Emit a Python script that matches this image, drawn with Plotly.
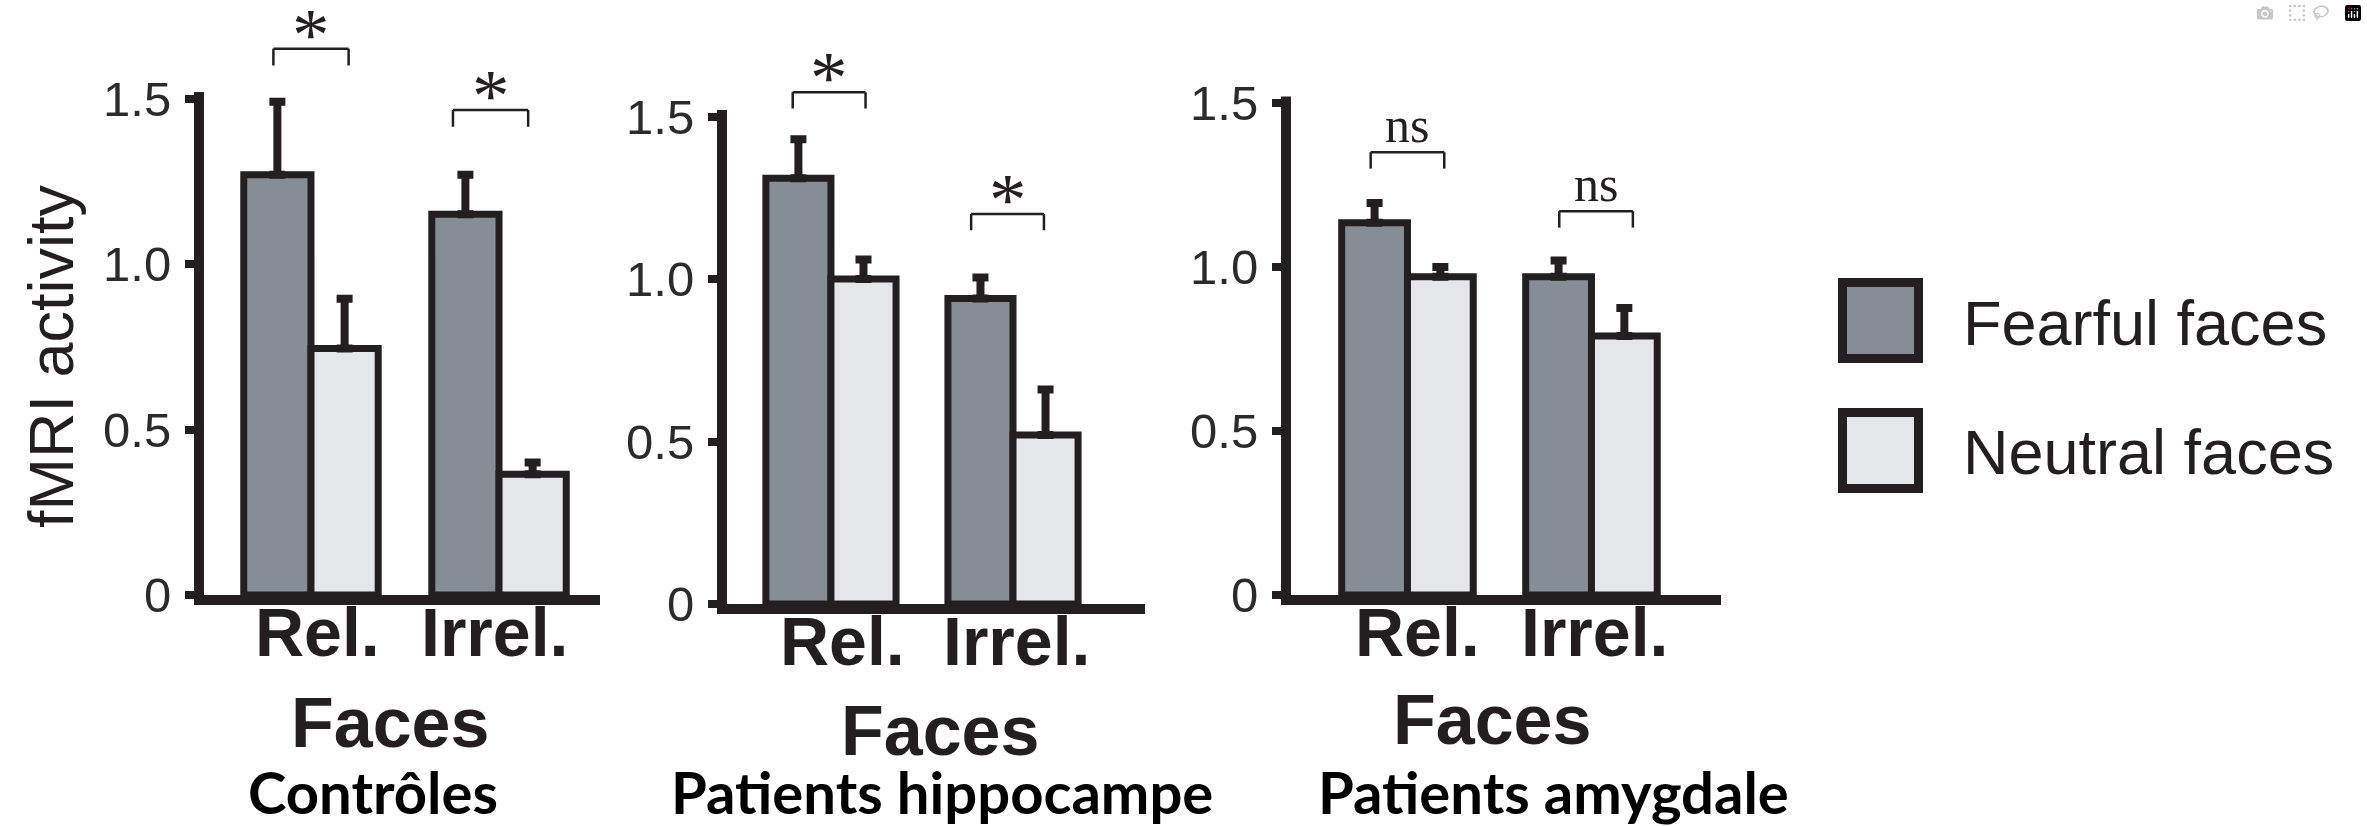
import plotly.graph_objects as go

# values
categories = ["Rel.", "Irrel."]
group_titles = ["Contrôles", "Patients hippocampe", "Patients amygdale"]
series_names = ["Fearful faces", "Neutral faces"]
y_tickvals = [0, 0.5, 1.0, 1.5]
y_ticktext = ["0", "0.5", "1.0", "1.5"]

ctrl_fearful = [1.27, 1.15]
ctrl_fearful_err = [0.22, 0.12]
ctrl_neutral = [0.745, 0.365]
ctrl_neutral_err = [0.15, 0.035]

hippo_fearful = [1.31, 0.94]
hippo_fearful_err = [0.12, 0.065]
hippo_neutral = [1.0, 0.52]
hippo_neutral_err = [0.06, 0.14]

amyg_fearful = [1.135, 0.97]
amyg_fearful_err = [0.06, 0.05]
amyg_neutral = [0.97, 0.79]
amyg_neutral_err = [0.03, 0.085]

# significance marks: label and bracket height for each category
ctrl_sig = ["*", "*"]
ctrl_sig_y = [1.65, 1.465]
hippo_sig = ["*", "*"]
hippo_sig_y = [1.575, 1.2]
amyg_sig = ["ns", "ns"]
amyg_sig_y = [1.35, 1.17]

# ---- look ----
W, H = 2367, 826
INK = "#231f20"
FEAR_COL = "#878d94"
NEUT_COL = "#e5e6e9"
Y_MAX = 1.79    # room above the axis for the brackets
Y_TOP = 1.52    # where the drawn y axis line stops
AX_W = 10       # axis line width


def px_x(p):
    return p / W


def px_y(p):
    return min(1.0, max(0.0, 1 - p / H))


panels = [
    dict(fear=ctrl_fearful, fear_err=ctrl_fearful_err, neut=ctrl_neutral, neut_err=ctrl_neutral_err,
         sig=ctrl_sig, sig_y=ctrl_sig_y, title=group_titles[0],
         left=204, right=600, base=595, unit=331, xr=[-0.569, 1.537],
         br_dx=[0.0, -0.045], lab_dx=[7, -5], faces=(390, 723), title_pos=(373, 791)),
    dict(fear=hippo_fearful, fear_err=hippo_fearful_err, neut=hippo_neutral, neut_err=hippo_neutral_err,
         sig=hippo_sig, sig_y=hippo_sig_y, title=group_titles[1],
         left=727, right=1145, base=604, unit=325, xr=[-0.571, 1.725],
         br_dx=[-0.01, -0.03], lab_dx=[12, 3], faces=(940, 731), title_pos=(942, 791)),
    dict(fear=amyg_fearful, fear_err=amyg_fearful_err, neut=amyg_neutral, neut_err=amyg_neutral_err,
         sig=amyg_sig, sig_y=amyg_sig_y, title=group_titles[2],
         left=1291, right=1721, base=595, unit=328, xr=[-0.633, 1.704],
         br_dx=[0.0, 0.025], lab_dx=[10, 3], faces=(1492, 720), title_pos=(1553, 791)),
]

fig = go.Figure()
shapes = []
annotations = []
layout_axes = {}

for i, p in enumerate(panels):
    s = "" if i == 0 else str(i + 1)
    top_px = p["base"] - Y_MAX * p["unit"]
    dom_w = p["right"] - p["left"]
    dom_h = p["base"] - top_px

    for vals, errs, col, name in [(p["fear"], p["fear_err"], FEAR_COL, series_names[0]),
                                  (p["neut"], p["neut_err"], NEUT_COL, series_names[1])]:
        fig.add_trace(go.Bar(
            x=categories, y=vals, name=name, showlegend=False,
            marker=dict(color=col, line=dict(color=INK, width=7)),
            error_y=dict(type="data", array=errs, arrayminus=[0] * len(errs),
                         symmetric=False, color=INK, thickness=8, width=8),
            xaxis="x" + s, yaxis="y" + s,
        ))

    layout_axes["xaxis" + s] = dict(
        domain=[px_x(p["left"]), px_x(p["right"])], range=p["xr"], anchor="y" + s,
        type="category", showline=True, linewidth=AX_W, linecolor=INK, ticks="",
        showticklabels=False, showgrid=False, zeroline=False, fixedrange=True,
    )
    layout_axes["yaxis" + s] = dict(
        domain=[px_y(p["base"]), px_y(top_px)], range=[0, Y_MAX], anchor="x" + s,
        showline=False, ticks="outside", ticklen=18, tickwidth=8, tickcolor=INK,
        tickvals=y_tickvals, ticktext=y_ticktext, showgrid=False, zeroline=False,
        tickfont=dict(family="Arial", size=49, color="#2b2b2b"), ticklabelstandoff=4,
        fixedrange=True,
    )

    # y axis line, stopping just above 1.5
    shapes.append(dict(type="line", xref="x" + s + " domain", yref="y" + s + " domain",
                       x0=-(AX_W / 2) / dom_w, x1=-(AX_W / 2) / dom_w,
                       y0=-AX_W / dom_h, y1=Y_TOP / Y_MAX,
                       line=dict(color=INK, width=AX_W)))

    # category labels under each group
    for c, dx in zip(categories, p["lab_dx"]):
        annotations.append(dict(
            xref="x" + s, yref="y" + s + " domain", x=c, y=0, text=c, showarrow=False,
            xanchor="center", yanchor="middle", xshift=dx, yshift=-37,
            font=dict(family="Arial", size=68, color=INK, weight="bold"),
        ))

    # significance brackets
    for ci, (lab, by) in enumerate(zip(p["sig"], p["sig_y"])):
        cx = ci + p["br_dx"][ci]
        x0, x1 = cx - 0.2, cx + 0.2
        leg = 0.05
        for (a, b, c, d) in [(x0, by, x1, by), (x0, by, x0, by - leg), (x1, by, x1, by - leg)]:
            shapes.append(dict(type="line", xref="x" + s, yref="y" + s, x0=a, y0=b, x1=c, y1=d,
                               line=dict(color=INK, width=2.5)))
        star = lab == "*"
        annotations.append(dict(
            xref="x" + s, yref="y" + s, x=cx, y=by, text=lab, showarrow=False,
            xanchor="center", yanchor="bottom", yshift=-29 if star else -3,
            font=dict(family="Liberation Serif", size=75 if star else 50, color=INK),
        ))

    annotations.append(dict(
        xref="paper", yref="paper", x=px_x(p["faces"][0]), y=px_y(p["faces"][1]),
        text="Faces", showarrow=False, xanchor="center", yanchor="middle",
        font=dict(family="Arial", size=70, color=INK, weight="bold"),
    ))
    annotations.append(dict(
        xref="paper", yref="paper", x=px_x(p["title_pos"][0]), y=px_y(p["title_pos"][1]),
        text=p["title"], showarrow=False, xanchor="center", yanchor="middle",
        font=dict(family="Lato", size=58, color="black", weight="bold"),
    ))

annotations.append(dict(
    xref="paper", yref="paper", x=px_x(51), y=px_y(356), text="fMRI activity",
    showarrow=False, textangle=-90, xanchor="center", yanchor="middle",
    font=dict(family="Arial", size=63, color=INK),
))

# legend drawn by hand (big outlined swatches)
for name, col, yc, ty in [(series_names[0], FEAR_COL, 320.5, 323), (series_names[1], NEUT_COL, 450.5, 452)]:
    shapes.append(dict(type="rect", xref="paper", yref="paper",
                       x0=px_x(1842.5), x1=px_x(1918.5), y0=px_y(yc + 38), y1=px_y(yc - 38),
                       fillcolor=col, line=dict(color=INK, width=9)))
    annotations.append(dict(xref="paper", yref="paper", x=px_x(1961), y=px_y(ty), text=name,
                            showarrow=False, xanchor="left", yanchor="middle",
                            font=dict(family="Arial", size=63, color=INK)))

fig.update_layout(
    width=W, height=H, margin=dict(l=0, r=0, t=0, b=0, autoexpand=False),
    plot_bgcolor="white", paper_bgcolor="white",
    barmode="group", bargap=0.285, bargroupgap=0, showlegend=False,
    shapes=shapes, annotations=annotations, **layout_axes,
)

fig.write_html("out.html", post_script="document.body.style.margin='0';")
